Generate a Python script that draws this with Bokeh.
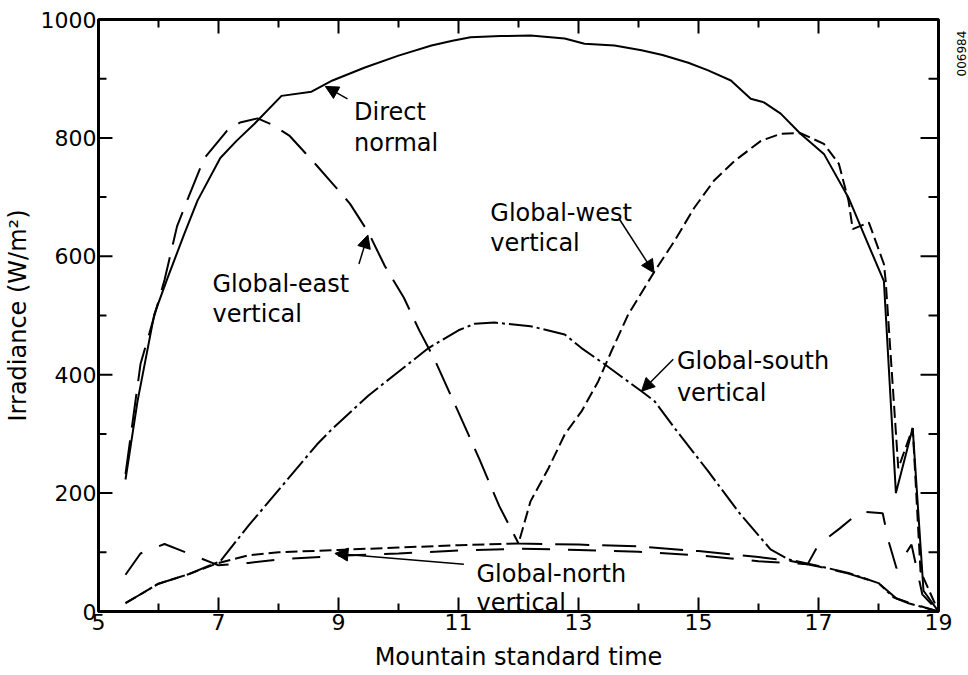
from math import pi
from bokeh.plotting import figure
from bokeh.layouts import row
from bokeh.models import LinearAxis, FixedTicker, Arrow, NormalHead, Label, Range1d
from bokeh.embed import file_html
from bokeh.resources import INLINE

# ---- data ----
dn_x = [5.45, 5.65, 5.93, 6.15, 6.43, 6.65, 7.03, 7.3, 7.6, 8.05, 8.55, 8.9, 9.44, 10.0, 10.55, 10.9, 11.2,
        11.7, 12.2, 12.77, 13.1, 13.6, 14.05, 14.4, 14.83, 15.16, 15.54, 15.87, 16.09, 16.37, 16.7, 17.09,
        17.5, 17.8, 18.09, 18.29, 18.57, 18.75, 19.0]
dn_y = [223, 355, 502, 563, 638, 694, 766, 795, 824, 871, 878, 897, 919, 939, 956, 964, 970,
        972, 973, 968, 959, 956, 948, 940, 927, 914, 897, 866, 860, 841, 807, 773,
        699, 627, 558, 200, 310, 35, 0]

ge_x = [5.45, 5.7, 5.86, 6.1, 6.31, 6.5, 6.76, 7.14, 7.36, 7.65, 7.9, 8.18, 8.64, 8.89, 9.19, 9.5, 9.77, 10.09,
        10.35, 10.6, 10.97, 11.35, 11.68, 12.0, 12.5, 13.0, 14.0, 15.0, 16.0, 16.5, 17.0, 17.5, 18.0, 18.3,
        18.6, 19.0]
ge_y = [232, 418, 474, 560, 651, 700, 765, 812, 826, 833, 822, 804, 753, 724, 689, 640, 584, 530,
        474, 426, 343, 257, 178, 115, 114, 113, 110, 102, 92, 86, 76, 64, 48, 22,
        12, 0]

gw_x = [5.45, 6.0, 6.5, 7.0, 7.5, 8.0, 9.0, 10.0, 11.0, 12.0, 12.2, 12.5, 12.77, 13.05, 13.33, 13.55, 13.83,
        14.27, 14.6, 14.93, 15.26, 15.6, 16.04, 16.37, 16.7, 17.09, 17.34, 17.5, 17.57, 17.84, 18.09, 18.12,
        18.33, 18.57, 18.7, 19.0]
gw_y = [14, 47, 63, 82, 95, 100, 104, 108, 112, 115, 186, 242, 299, 338, 389, 440, 502,
        575, 626, 682, 728, 761, 795, 807, 808, 790, 756, 694, 646, 657, 587, 558,
        242, 310, 68, 0]

gs_x = [5.45, 6.0, 6.5, 7.03, 7.5, 8.0, 8.64, 8.89, 9.5, 10.0, 10.5, 11.0, 11.27, 11.6, 12.2, 12.77, 13.05,
        13.43, 14.05, 14.27, 14.6, 15.16, 15.7, 16.2, 16.5, 17.0, 17.5, 18.0, 18.25, 18.5, 19.0]
gs_y = [14, 47, 63, 85, 145, 205, 282, 308, 365, 405, 445, 475, 486, 488, 482, 468, 445,
        418, 372, 355, 310, 237, 164, 105, 88, 77, 65, 48, 24, 14, 0]

gn_x = [5.45, 5.7, 6.1, 6.5, 7.0, 7.5, 8.0, 9.0, 10.0, 11.0, 12.0, 13.0, 14.0, 15.0, 15.5, 16.0, 16.5, 16.82,
        17.0, 17.35, 17.7, 18.07, 18.17, 18.3, 18.55, 18.73, 19.0]
gn_y = [62, 98, 114, 98, 78, 82, 88, 94, 98, 103, 106, 104, 101, 95, 90, 85, 82, 80,
        113, 140, 169, 166, 118, 73, 113, 29, 0]

x_major = [5, 7, 9, 11, 13, 15, 17, 19]
x_minor = [6, 8, 10, 12, 14, 16, 18]
y_major = [0, 200, 400, 600, 800, 1000]
y_minor = [100, 300, 500, 700, 900]
X0, X1 = 5, 19
Y0, Y1 = 0, 1000

FONT = "DejaVu Sans"

# frame geometry (pixels) used to size the inward tick marks
FRAME_W, FRAME_H = 842, 592
PX_X = (X1 - X0) / FRAME_W
PX_Y = (Y1 - Y0) / FRAME_H

p = figure(width=954, height=675, x_range=Range1d(X0, X1), y_range=Range1d(Y0, Y1),
           output_backend="svg", toolbar_location=None,
           x_axis_location=None, y_axis_location=None,
           min_border_left=96, min_border_right=16, min_border_top=19, min_border_bottom=64)
p.grid.visible = False
p.outline_line_color = "black"
p.outline_line_width = 3
p.background_fill_color = "white"
p.border_fill_color = "white"


def make_axis(ticks, minor, label, standoff_label):
    ax = LinearAxis(ticker=FixedTicker(ticks=ticks, minor_ticks=minor))
    ax.axis_line_width = 3
    ax.axis_line_color = "black"
    ax.major_tick_in = 0
    ax.major_tick_out = 0
    ax.minor_tick_in = 0
    ax.minor_tick_out = 0
    ax.major_label_text_font = FONT
    ax.major_label_text_font_size = "22px"
    ax.major_label_text_color = "black"
    ax.major_label_standoff = 2
    ax.axis_label = label
    ax.axis_label_text_font = FONT
    ax.axis_label_text_font_size = "24px"
    ax.axis_label_text_font_style = "normal"
    ax.axis_label_text_color = "black"
    ax.axis_label_standoff = standoff_label
    return ax


p.add_layout(make_axis(x_major, x_minor, "Mountain standard time", 10), "below")
p.add_layout(make_axis(y_major, y_minor, "Irradiance (W/m²)", 6), "left")

# inward tick marks on all four sides, placed at the tick values
TK = dict(line_color="black", line_width=2)


def vticks(xs, y, length_px, direction):
    p.segment(x0=xs, y0=[y] * len(xs), x1=xs, y1=[y + direction * length_px * PX_Y] * len(xs), **TK)


def hticks(ys, x, length_px, direction):
    p.segment(x0=[x] * len(ys), y0=ys, x1=[x + direction * length_px * PX_X] * len(ys), y1=ys, **TK)


vticks(x_major, Y0, 14, 1)
vticks(x_minor, Y0, 8, 1)
vticks(x_major, Y1, 14, -1)
vticks(x_minor, Y1, 8, -1)
hticks(y_major, X0, 14, 1)
hticks(y_minor, X0, 8, 1)
hticks(y_major, X1, 18, -1)
hticks(y_minor, X1, 10, -1)

LW = 2
p.line(gn_x, gn_y, line_color="black", line_width=LW, line_dash="28 18")
p.line(gs_x, gs_y, line_color="black", line_width=LW, line_dash="24 4 3 4")
p.line(gw_x, gw_y, line_color="black", line_width=LW, line_dash="12 5")
p.line(ge_x, ge_y, line_color="black", line_width=LW, line_dash="34 13")
p.line(dn_x, dn_y, line_color="black", line_width=LW)

# ---- annotations ----
labels = [
    ("Direct", 9.26, 843), ("normal", 9.26, 792),
    ("Global-west", 11.53, 673), ("vertical", 11.53, 622),
    ("Global-east", 6.9, 553), ("vertical", 6.9, 502),
    ("Global-south", 14.64, 423), ("vertical", 14.64, 369),
    ("Global-north", 11.30, 64), ("vertical", 11.30, 14),
]
for t, x, y in labels:
    p.add_layout(Label(x=x, y=y, text=t, text_font=FONT, text_font_size="24px",
                       text_color="black", text_baseline="alphabetic", text_align="left"))

arrows = [
    (9.15, 866, 8.78, 887),
    (9.34, 587, 9.49, 636),
    (13.68, 663, 14.26, 572),
    (14.58, 426, 14.05, 372),
    (11.09, 80, 8.94, 98),
]
for x0, y0, x1, y1 in arrows:
    p.add_layout(Arrow(x_start=x0, y_start=y0, x_end=x1, y_end=y1, line_width=1.5, line_color="black",
                       end=NormalHead(size=13, fill_color="black", line_color="black", line_width=1)))

# narrow side panel carrying the figure's id number, rotated, at the top right
side = figure(width=14, height=675, x_range=Range1d(0, 14), y_range=Range1d(0, 675),
              output_backend="svg", toolbar_location=None,
              x_axis_location=None, y_axis_location=None,
              min_border=0, min_border_left=0, min_border_right=0, min_border_top=0, min_border_bottom=0)
side.grid.visible = False
side.outline_line_color = None
side.background_fill_color = "white"
side.border_fill_color = "white"
side.add_layout(Label(x=7, y=610, text="006984", angle=pi / 2, text_font=FONT, text_font_size="12px",
                      text_color="black", text_baseline="middle", text_align="left"))

layout = row(p, side, spacing=0)
open("out.html", "w").write(file_html(layout, INLINE))
